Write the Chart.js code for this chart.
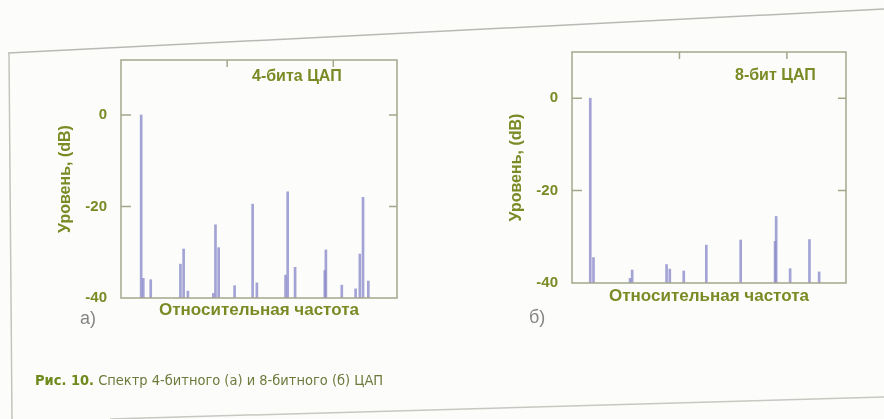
<!DOCTYPE html>
<html>
<head>
<meta charset="utf-8">
<script src="https://cdn.jsdelivr.net/npm/chart.js@4/dist/chart.umd.min.js"></script>
<style>
  html, body { margin: 0; padding: 0; }
  body { width: 884px; height: 419px; background: #fcfcfa; position: relative; overflow: hidden;
         font-family: "Liberation Sans", Arial, sans-serif; }
  canvas.plot { position: absolute; left: 0; top: 0; }
  .lbl { position: absolute; white-space: nowrap; line-height: 1; }
  .note { color: #7a8b26; font-weight: bold; font-size: 16px; }
  .sub { color: #858585; font-size: 18px; }
  .cap { left: 35px; top: 373px; font-family: "DejaVu Sans Condensed", "Liberation Sans Narrow", sans-serif;
         font-size: 14.5px; color: #6c7a3c; }
  .cap b { color: #6e8a1c; }
  svg { position: absolute; left: 0; top: 0; }
</style>
</head>
<body>
<svg width="884" height="419">
  <line x1="8" y1="53" x2="884" y2="9" stroke="#b9b9b4" stroke-width="1.5"/>
  <line x1="9" y1="53" x2="12" y2="419" stroke="#c4c4be" stroke-width="1.5"/>
  <line x1="110" y1="419" x2="884" y2="397" stroke="#c8c8c2" stroke-width="1.5"/>
</svg>
<canvas id="chartA" class="plot" width="884" height="419"></canvas>
<canvas id="chartB" class="plot" width="884" height="419"></canvas>

<div class="lbl note" style="left:252px; top:68px;">4-бита ЦАП</div>
<div class="lbl note" style="left:735px; top:67px;">8-бит ЦАП</div>
<div class="lbl sub" style="left:80px; top:309px;">а)</div>
<div class="lbl sub" style="left:529px; top:308px;">б)</div>
<div class="lbl cap"><b>Рис. 10.</b> Спектр 4-битного (а) и 8-битного (б) ЦАП</div>

<script>
// spectral lines, 4-bit DAC (relative frequency, level dB)
const freqA  = [0.19, 0.21, 0.28, 0.56, 0.59, 0.63, 0.87, 0.89, 0.92, 1.07, 1.24, 1.28,
                1.55, 1.57, 1.64, 1.92, 1.93, 2.08, 2.21, 2.25, 2.28, 2.33];
const levelA = [0, -35.7, -36, -32.6, -29.3, -38.5, -39, -24, -29, -37.3, -19.5, -36.7,
                -35, -16.8, -33.3, -34, -29.5, -37.2, -38, -30.4, -18, -36.3];

// spectral lines, 8-bit DAC
const freqB  = [0.17, 0.20, 0.54, 0.56, 0.88, 0.91, 1.04, 1.25, 1.57, 1.89, 1.90, 2.03, 2.21, 2.30];
const levelB = [0, -34.5, -39, -37.2, -36, -37, -37.4, -31.8, -30.7, -31, -25.6, -36.9, -30.6, -37.6];

const yTickLabels = [-40, -20, 0];
const xTickMarks = [1, 2];
const floorDb = -40;

const olive = '#7a8b26';
const frameCol = '#a3a78a';
const lineCol = 'rgba(140,140,204,0.8)';

const frameTicks = {
  id: 'frameTicks',
  afterDatasetsDraw(chart) {
    const {ctx, chartArea: a, scales: {x, y}} = chart;
    ctx.save();
    ctx.strokeStyle = frameCol;
    ctx.lineWidth = 1.5;
    ctx.strokeRect(a.left, a.top, a.width, a.height);
    ctx.beginPath();
    xTickMarks.forEach(v => {
      const px = x.getPixelForValue(v);
      ctx.moveTo(px, a.top); ctx.lineTo(px, a.top + 7);
    });
    [0, -20].forEach(v => {
      const py = y.getPixelForValue(v);
      ctx.moveTo(a.left, py); ctx.lineTo(a.left + 10, py);
      ctx.moveTo(a.right, py); ctx.lineTo(a.right - 8, py);
    });
    ctx.stroke();
    ctx.restore();
  }
};

function makeChart(id, freq, level, xMax, yMax, pad, titlePadX) {
  return new Chart(document.getElementById(id), {
    type: 'bar',
    data: {
      datasets: [{
        data: freq.map((f, i) => ({x: f, y: [floorDb, level[i]]})),
        backgroundColor: lineCol,
        borderWidth: 0,
        barThickness: 2,
        grouped: false
      }]
    },
    options: {
      responsive: false,
      animation: false,
      devicePixelRatio: 1,
      layout: { padding: pad },
      plugins: { legend: { display: false }, tooltip: { enabled: false } },
      scales: {
        x: {
          type: 'linear', min: 0, max: xMax, offset: false,
          grid: { display: false, drawTicks: false, offset: false },
          border: { display: false },
          ticks: { display: false },
          title: { display: true, text: 'Относительная частота', color: olive,
                   font: { family: 'Liberation Sans', size: 17, weight: 'bold' },
                   padding: { top: 0, bottom: titlePadX } },
          afterFit(s) { s.height = 30; }
        },
        y: {
          min: floorDb, max: yMax,
          grid: { display: false, drawTicks: false },
          border: { display: false },
          afterBuildTicks(s) { s.ticks = yTickLabels.map(v => ({value: v})); },
          ticks: { color: olive, padding: 14,
                   font: { family: 'Liberation Sans', size: 15, weight: 'bold' } },
          title: { display: true, text: 'Уровень, (dB)', color: olive,
                   font: { family: 'Liberation Sans', size: 16, weight: 'bold' },
                   padding: { top: 15, bottom: 0 } },
          afterFit(s) { s.width = 80; }
        }
      }
    },
    plugins: [frameTicks]
  });
}

makeChart('chartA', freqA, levelA, 2.6, 12, {left: 41, right: 487, top: 60, bottom: 91}, 7);
makeChart('chartB', freqB, levelB, 2.55, 10, {left: 492, right: 38, top: 52, bottom: 106}, 6);
</script>
</body>
</html>
